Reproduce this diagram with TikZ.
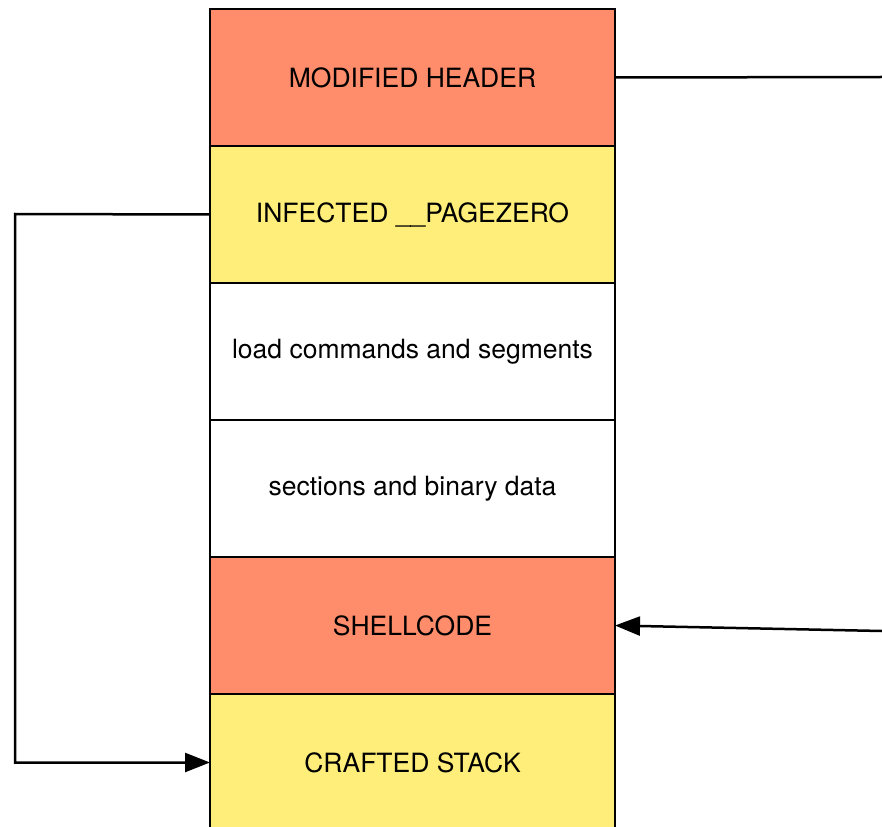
\documentclass[tikz,border=0pt]{standalone}
\usepackage{fontspec}
\setmainfont{TeX Gyre Heros}
\usepackage{tikz}
\usetikzlibrary{arrows.meta}
\usetikzlibrary{positioning}
\definecolor{salmon}{RGB}{255,140,106}
\definecolor{lightyellow}{RGB}{255,239,122}
\tikzset{font={\fontsize{26.5pt}{30}\selectfont}}

\begin{document}
\begin{tikzpicture}[x=1pt,y=-1pt,
segbox/.style={draw,line width=2.5pt,minimum width=405pt,minimum height=137pt,inner sep=0pt,outer sep=0pt,anchor=north},
link/.style={line width=2.5pt},
arr/.style={link,-{Triangle[length=25pt,width=19pt]}}
]
\useasboundingbox (0,0) rectangle (882,826);

\node[segbox,fill=salmon] (header) at (412.5,9) {MODIFIED HEADER};
\node[segbox,fill=lightyellow,below=0pt of header] (pagezero) {INFECTED \_\_PAGEZERO};
\node[segbox,fill=white,below=0pt of pagezero] (loadcmds) {load commands and segments};
\node[segbox,fill=white,below=0pt of loadcmds] (sections) {sections and binary data};
\node[segbox,fill=salmon,below=0pt of sections] (shellcode) {SHELLCODE};
\node[segbox,fill=lightyellow,below=0pt of shellcode] (stack) {CRAFTED STACK};

\coordinate (hdrend) at (882,77);
\coordinate (scstart) at (882,631);
\coordinate (leftbend) at (15,214);

\draw[link] (header.east) -- (hdrend);
\draw[arr] (scstart) -- (shellcode.east);
\draw[arr] (pagezero.west) -- (leftbend) |- (stack.west);

\end{tikzpicture}
\end{document}
